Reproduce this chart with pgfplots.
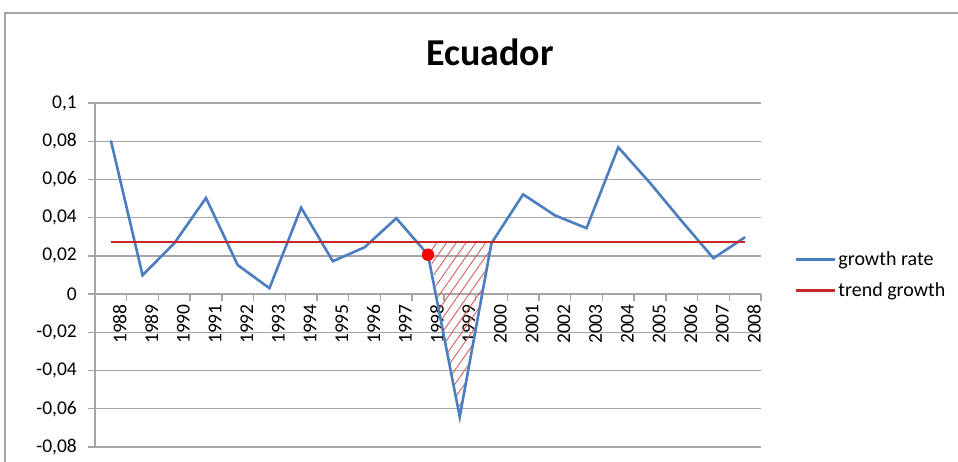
\documentclass[border=0pt]{standalone}
\usepackage{pgfplots}
\pgfplotsset{compat=1.18}
\usepackage{fontspec}
\setmainfont{Carlito}
\usetikzlibrary{patterns.meta}
\definecolor{gblue}{RGB}{74,126,193}
\definecolor{tred}{RGB}{200,40,40}
\definecolor{gridg}{RGB}{165,165,165}
\begin{document}
\begin{tikzpicture}[x=1pt,y=1pt]
\useasboundingbox (0,0) rectangle (958,462);
\draw[gridg, line width=1.2pt] (5,0) -- (5,449) -- (958,449);
\node[font=\fontsize{38}{40}\selectfont\bfseries] at (490,410) {Ecuador};
\begin{axis}[at={(95pt,15pt)}, anchor=south west, scale only axis,
  width=666pt, height=344pt,
  xmin=-0.5, xmax=20.5, ymin=-0.08, ymax=0.1,
  axis y line=left, axis x line=middle,
  axis line style={-, gridg, line width=1.4pt},
  hide obscured y ticks=false,
  ytick={-0.08,-0.06,...,0.1},
  yticklabels={{-0,08},{-0,06},{-0,04},{-0,02},{0},{0,02},{0,04},{0,06},{0,08},{0,1}},
  ymajorgrids, grid style={gridg, line width=1.4pt},
  tick align=outside,
  major tick length=7pt, minor tick length=7pt,
  tick style={gridg, line width=1.4pt},
  xtick={0,...,20},
  xticklabels={1988,1989,1990,1991,1992,1993,1994,1995,1996,1997,1998,1999,2000,2001,2002,2003,2004,2005,2006,2007,2008},
  every major x tick/.append style={draw=none},
  extra x ticks={-0.5,0.5,...,20.5},
  extra x tick labels={},
  extra x tick style={every major x tick/.append style={draw=gridg, line width=1.4pt}, grid=none},
  xticklabel style={rotate=90, anchor=east, font=\fontsize{19.5}{20}\selectfont, inner sep=3pt, yshift=-9pt},
  yticklabel style={font=\fontsize{19.5}{20}\selectfont, inner sep=3pt, xshift=-8pt},
  legend style={at={(1.046,0.5)}, anchor=west, draw=none, fill=none,
    font=\fontsize{20}{22}\selectfont, row sep=12pt},
  legend cell align=left,
  legend image code/.code={\draw[#1] (0pt,0pt) -- (39pt,0pt);},
]
\addplot[draw=none, pattern={Lines[angle=55,distance=8pt,line width=0.9pt]}, pattern color=tred!75, forget plot]
  coordinates {(10,0.0272) (11,-0.064) (12,0.0272) (10,0.0272)};
\addplot[gblue, line width=2.6pt] coordinates {
(0,0.0804) (1,0.0099) (2,0.0266) (3,0.0503) (4,0.0152) (5,0.0031) (6,0.0452)
(7,0.0172) (8,0.0245) (9,0.0397) (10,0.0206) (11,-0.0642) (12,0.0266) (13,0.0522)
(14,0.0412) (15,0.0345) (16,0.0768) (17,0.0582) (18,0.0382) (19,0.0188) (20,0.0298)};
\addlegendentry{growth rate}
\addplot[tred, line width=2.4pt] coordinates {(0,0.0272) (20,0.0272)};
\addlegendentry{trend growth}
\addplot[only marks, mark=*, mark size=6pt, mark options={fill=red, draw=red}, forget plot]
  coordinates {(10,0.0206)};
\end{axis}
\end{tikzpicture}
\end{document}
